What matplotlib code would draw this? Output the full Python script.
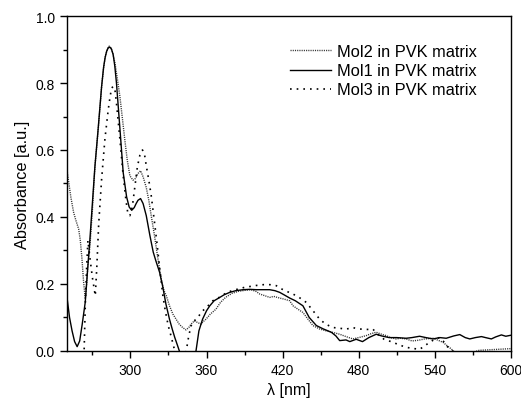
import matplotlib
matplotlib.use("Agg")
import matplotlib.pyplot as plt
from matplotlib.ticker import MultipleLocator, FormatStrFormatter

plt.rcParams['font.family'] = ['Liberation Sans', 'DejaVu Sans']

# Mol1 in PVK matrix (solid)
mol1_x = [250, 252, 254, 256, 258, 260, 262, 264.4, 266, 268, 270, 272, 274.6, 277.3, 278.8, 280, 281.3,
          282.5, 283.7, 285, 286.4, 287.7, 289, 291.7, 294.3, 297, 299, 301, 303, 304.5, 306, 308, 310,
          312.5, 315.4, 318, 320, 323, 325.6, 328, 330.8, 333, 335, 337, 338.6, 342, 346, 349, 351.7, 354,
          356.9, 360, 362.6, 366, 370.5, 374, 378.3, 383, 388.8, 394, 399.4, 405, 409.8, 414,
          417.7, 421, 425.6, 430, 436, 441, 446.6, 452, 458.4, 462, 465, 470, 473, 478, 483,
          488, 493.8, 498, 504, 510, 517.4, 522, 528, 533, 538.5, 544, 549, 555, 559.7, 564,
          567.6, 572, 576.8, 580, 584.6, 588, 592.5, 596, 600]
mol1_y = [0.16, 0.10, 0.06, 0.028, 0.013, 0.03, 0.08, 0.146, 0.23, 0.33, 0.44, 0.55, 0.665, 0.79, 0.845, 0.875, 0.895,
          0.905, 0.907, 0.902, 0.885, 0.85, 0.8, 0.665, 0.533, 0.46, 0.43, 0.42, 0.428, 0.44, 0.45, 0.455, 0.44,
          0.404, 0.344, 0.295, 0.27, 0.235, 0.19, 0.14, 0.095, 0.065, 0.04, 0.018, 0.0, -0.05, -0.06, -0.04, 0.0, 0.06,
          0.095, 0.12, 0.135, 0.15, 0.16, 0.168, 0.175, 0.18, 0.183, 0.184, 0.183, 0.183, 0.183, 0.18,
          0.175, 0.168, 0.158, 0.15, 0.135, 0.1, 0.076, 0.066, 0.056, 0.045, 0.031, 0.033, 0.028, 0.035, 0.028,
          0.04, 0.05, 0.045, 0.04, 0.04, 0.038, 0.04, 0.044, 0.04, 0.036, 0.04, 0.038, 0.045, 0.049, 0.04,
          0.036, 0.04, 0.043, 0.04, 0.036, 0.042, 0.048, 0.044, 0.047]

# Mol2 in PVK matrix (fine dotted)
mol2_x = [250, 251.5, 253, 255.2, 257, 259.2, 260.5, 261.8, 263, 264.4, 265.5, 266.5, 268, 270, 272,
          274.6, 277.3, 279, 280.5, 282, 283.3, 284.6, 286, 287.8, 289.8, 291.7, 293.5, 295.5, 297.5, 299.6, 302, 304,
          306, 308, 310, 312.5, 314.5, 316.4, 319, 321.5, 324.3, 326.5, 328.3, 330.8, 333.5, 336,
          338.5, 341.2, 343.8, 346, 347.8, 350.4, 353, 355.6, 357.5, 359.6, 363, 367.5, 371, 375,
          380, 385, 390, 395, 399, 402, 406, 409.8, 413, 417.7, 421, 425.6, 428.2, 432, 436, 440,
          443.9, 449, 454.4, 460, 465, 470, 475.4, 480, 486, 490, 493.8, 498, 501.6, 505, 509.5,
          513, 517.4, 522, 527, 532, 538.5, 542, 546.4, 550, 553, 556, 560, 565, 570, 575, 580,
          585, 590, 595, 600]
mol2_y = [0.54, 0.50, 0.46, 0.414, 0.39, 0.364, 0.33, 0.275, 0.21, 0.155, 0.2, 0.26, 0.31, 0.42, 0.55,
          0.66, 0.79, 0.85, 0.885, 0.903, 0.91, 0.905, 0.89, 0.86, 0.81, 0.76, 0.70, 0.633, 0.57, 0.523, 0.51, 0.515,
          0.53, 0.538, 0.52, 0.488, 0.45, 0.404, 0.344, 0.28, 0.215, 0.18, 0.165, 0.135, 0.11, 0.095,
          0.08, 0.07, 0.063, 0.07, 0.08, 0.09, 0.085, 0.08, 0.088, 0.095, 0.11, 0.125, 0.145, 0.16,
          0.172, 0.178, 0.181, 0.183, 0.178, 0.17, 0.165, 0.16, 0.163, 0.158, 0.155, 0.15, 0.135, 0.125, 0.115, 0.095,
          0.076, 0.066, 0.06, 0.055, 0.05, 0.043, 0.036, 0.04, 0.046, 0.052, 0.056, 0.05, 0.046, 0.04, 0.036,
          0.038, 0.036, 0.03, 0.032, 0.036, 0.038, 0.033, 0.026, 0.015, 0.006, -0.005, -0.01, -0.008, -0.004, 0.002, 0.003,
          0.004, 0.005, 0.006, 0.007]

# Mol3 in PVK matrix (sparse dotted)
mol3_x = [250, 258, 262, 263.5, 264.5, 265.5, 266.5, 268, 270, 272.3, 273.5, 275, 277.3, 279.9, 282.5,
          284, 285.2, 286.5, 287.8, 289, 291.7, 294.3, 296.5, 298, 299.6, 301.5, 303.5, 305.5, 307.5, 309.5, 311,
          312.5, 314.5, 316.4, 319, 321, 323, 325.6, 327.5, 329.8, 332, 335, 338, 342, 344, 346,
          347.8, 350.4, 353, 357, 360, 365, 370, 375, 380, 385, 390, 395, 400, 405, 410, 415, 417.7,
          422, 428.2, 433, 438.7, 444, 449.2, 454, 459.7, 465, 470, 475, 480, 486, 491, 495, 500,
          507, 512, 517.5, 522, 528, 532, 535.8, 540, 543.7, 547, 549, 552, 554, 558, 570, 585, 600]
mol3_y = [-0.2, -0.15, -0.05, 0.0, 0.15, 0.25, 0.33, 0.28, 0.22, 0.165, 0.25, 0.38, 0.513, 0.633, 0.72,
          0.76, 0.785, 0.79, 0.78, 0.74, 0.633, 0.523, 0.45, 0.41, 0.404, 0.43, 0.49, 0.55, 0.585, 0.60, 0.59,
          0.553, 0.51, 0.464, 0.384, 0.32, 0.25, 0.165, 0.12, 0.076, 0.045, 0.0, -0.04, -0.03, 0.0, 0.045,
          0.075, 0.09, 0.1, 0.12, 0.13, 0.15, 0.16, 0.172, 0.18, 0.185, 0.19, 0.193, 0.196, 0.198, 0.198, 0.195, 0.188,
          0.18, 0.17, 0.16, 0.145, 0.12, 0.095, 0.08, 0.07, 0.068, 0.065, 0.07, 0.066, 0.064, 0.066, 0.05, 0.035,
          0.026, 0.018, 0.011, 0.008, 0.005, 0.015, 0.026, 0.035, 0.04, 0.028, 0.016, 0.006, 0.0, -0.02, -0.03, -0.03, -0.03]

labels = ['Mol2 in PVK matrix', 'Mol1 in PVK matrix', 'Mol3 in PVK matrix']

fig = plt.figure(figsize=(5.21, 4.02), dpi=100)
ax = fig.add_axes([0.1286, 0.1244, 0.852, 0.8333])

ax.plot(mol2_x, mol2_y, color='#333333', lw=1.0, linestyle=(0, (0.8, 0.8)), label=labels[0])
ax.plot(mol1_x, mol1_y, color='black', lw=1.0, linestyle='-', label=labels[1])
ax.plot(mol3_x, mol3_y, color='black', lw=1.2, linestyle=(0, (1, 3)), label=labels[2])

ax.set_xlim(250, 600)
ax.set_ylim(0, 1.0)
ax.xaxis.set_major_locator(MultipleLocator(60))
ax.xaxis.set_minor_locator(MultipleLocator(30))
ax.yaxis.set_major_locator(MultipleLocator(0.2))
ax.yaxis.set_minor_locator(MultipleLocator(0.1))
ax.yaxis.set_major_formatter(FormatStrFormatter('%.1f'))
ax.tick_params(which='major', direction='out', length=5, width=1, labelsize=10, top=False, right=False)
ax.tick_params(which='minor', direction='out', length=3, width=1, top=False, right=False)
for s in ax.spines.values():
    s.set_linewidth(1.0)

ax.set_xlabel('λ [nm]', fontsize=11.5)
ax.set_ylabel('Absorbance [a.u.]', fontsize=11.8)

leg = ax.legend(loc='upper right', bbox_to_anchor=(0.923, 0.916), frameon=False, fontsize=11.8,
                handlelength=2.5, handletextpad=0.37, labelspacing=0.25, borderaxespad=0,
                borderpad=0)

fig.savefig('out.png', dpi=100)
